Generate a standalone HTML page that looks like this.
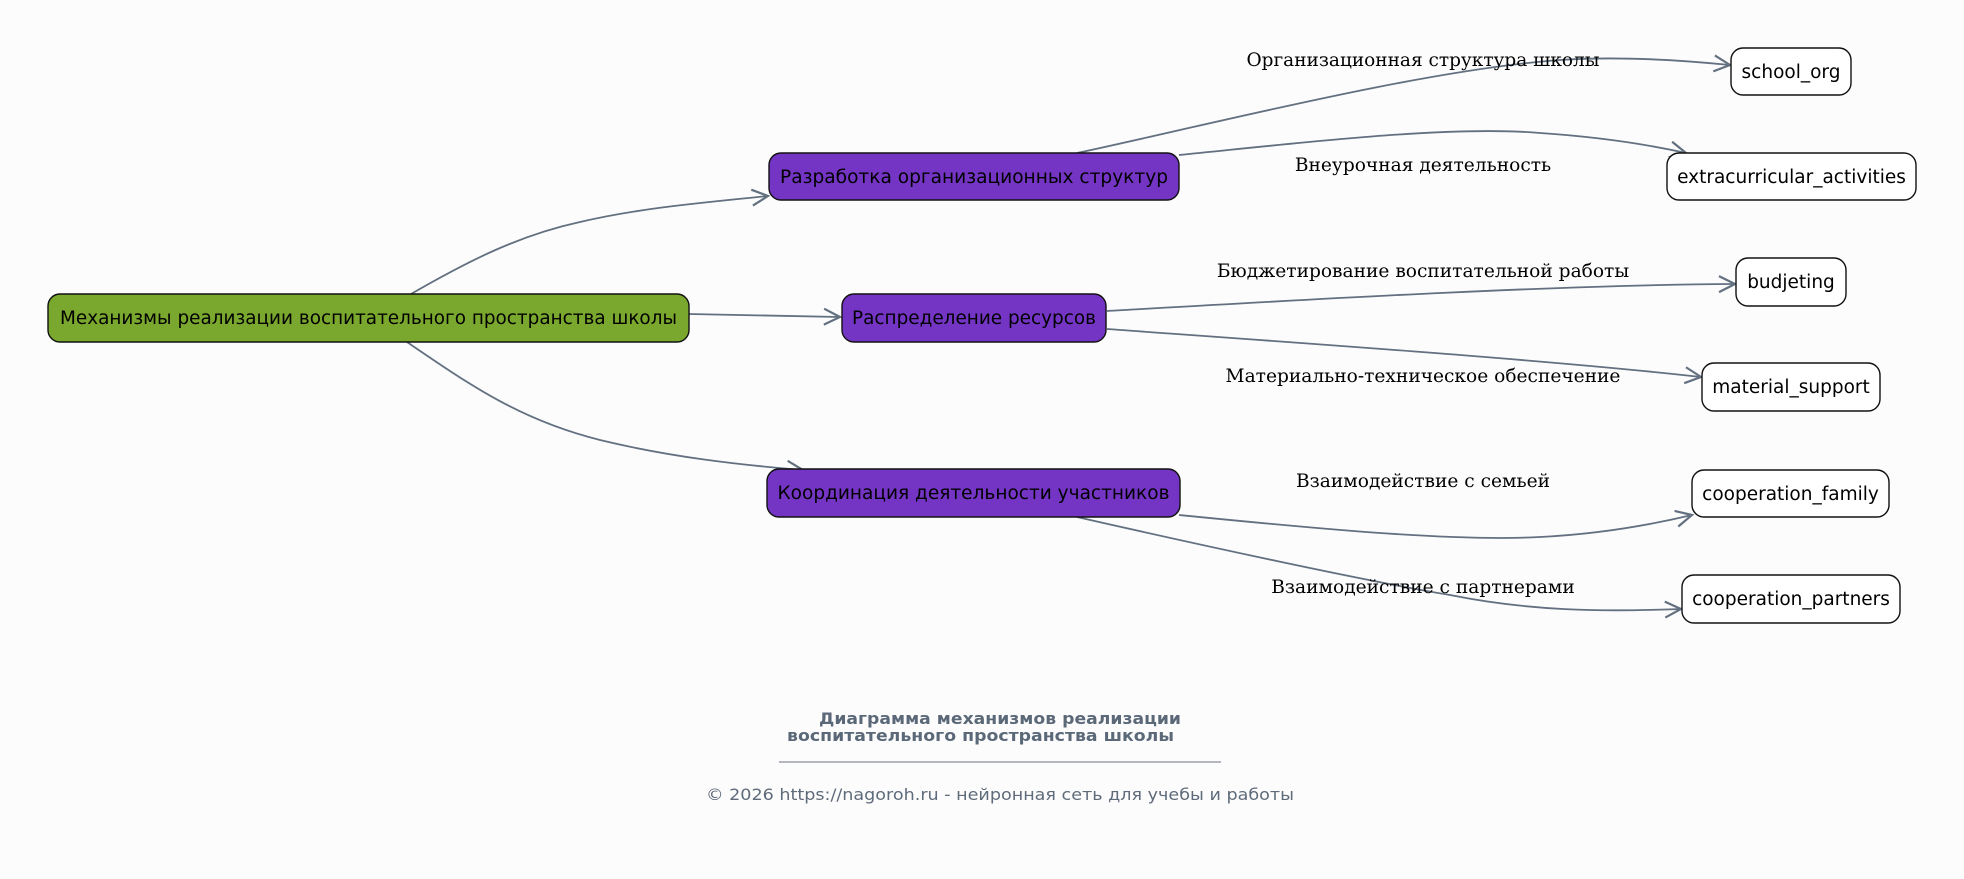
<!DOCTYPE html>
<html><head><meta charset="utf-8"><style>
html,body{margin:0;padding:0;background:#fcfcfc;}
svg{display:block;}
.n{font-family:"DejaVu Sans","Liberation Sans",sans-serif;font-size:18.5px;fill:#000;}
.l{font-family:"DejaVu Serif","Liberation Serif",serif;font-size:18.6px;fill:#000;}
.e{fill:none;stroke:#627080;stroke-width:1.8;marker-end:url(#ah);}
</style></head><body>
<svg width="1964" height="879" viewBox="0 0 1964 879" xmlns="http://www.w3.org/2000/svg">
<defs>
<marker id="ah" markerWidth="24" markerHeight="24" refX="19" refY="10" orient="auto" markerUnits="userSpaceOnUse">
<path d="M3,2 L19,10 L3,18" fill="none" stroke="#627080" stroke-width="2.2" stroke-linejoin="miter"/>
</marker>
</defs>
<rect width="1964" height="879" fill="#fcfcfc"/>
<path class="e" d="M411,294 C470,260 520,235 580,222 C640,208 700,203 768,196"/>
<path class="e" d="M689,314 L840,317"/>
<path class="e" d="M407,342 C470,385 520,420 600,440 C670,457 740,465 803,470"/>
<path class="e" d="M1077,153 C1200,127 1420,70 1560,60 C1620,56 1680,60 1730,65"/>
<path class="e" d="M1179,155 C1300,143 1450,125 1540,133 C1600,137 1650,145 1686,153"/>
<path class="e" d="M1107,311 C1300,300 1550,285 1735,284"/>
<path class="e" d="M1107,329 C1300,343 1550,360 1701,377"/>
<path class="e" d="M1179,515 C1300,527 1450,542 1540,537 C1600,534 1650,525 1692,515"/>
<path class="e" d="M1077,517 C1200,545 1370,582 1450,595 C1530,611 1600,612 1681,609"/>
<g class="l" text-anchor="middle">
<text x="1423" y="66" textLength="353" lengthAdjust="spacingAndGlyphs">Организационная структура школы</text>
<text x="1423" y="171">Внеурочная деятельность</text>
<text x="1423" y="277">Бюджетирование воспитательной работы</text>
<text x="1423" y="382">Материально-техническое обеспечение</text>
<text x="1423" y="487">Взаимодействие с семьей</text>
<text x="1423" y="593">Взаимодействие с партнерами</text>
</g>
<rect x="48" y="294" width="641" height="48" rx="12" fill="#7aa82e" stroke="#111" stroke-width="1.4"/>
<text class="n" x="368.5" y="324" text-anchor="middle" textLength="617" lengthAdjust="spacingAndGlyphs">Механизмы реализации воспитательного пространства школы</text>
<rect x="769" y="153" width="410" height="47" rx="12" fill="#7435c4" stroke="#111" stroke-width="1.4"/>
<text class="n" x="974" y="183" text-anchor="middle" textLength="388" lengthAdjust="spacingAndGlyphs">Разработка организационных структур</text>
<rect x="842" y="294" width="264" height="48" rx="12" fill="#7435c4" stroke="#111" stroke-width="1.4"/>
<text class="n" x="974" y="324" text-anchor="middle" textLength="244" lengthAdjust="spacingAndGlyphs">Распределение ресурсов</text>
<rect x="767" y="469" width="413" height="48" rx="12" fill="#7435c4" stroke="#111" stroke-width="1.4"/>
<text class="n" x="973.5" y="499" text-anchor="middle" textLength="392" lengthAdjust="spacingAndGlyphs">Координация деятельности участников</text>
<g fill="#fff" stroke="#111" stroke-width="1.4">
<rect x="1731" y="48" width="120" height="47" rx="12"/>
<rect x="1667" y="153" width="249" height="47" rx="12"/>
<rect x="1736" y="258" width="110" height="48" rx="12"/>
<rect x="1702" y="363" width="178" height="48" rx="12"/>
<rect x="1692" y="470" width="197" height="47" rx="12"/>
<rect x="1682" y="575" width="218" height="48" rx="12"/>
</g>
<g class="n" text-anchor="middle">
<text x="1791" y="78">school_org</text>
<text x="1791.5" y="183">extracurricular_activities</text>
<text x="1791" y="288">budjeting</text>
<text x="1791" y="393">material_support</text>
<text x="1790.5" y="500">cooperation_family</text>
<text x="1791" y="605">cooperation_partners</text>
</g>
<g font-family="DejaVu Sans,Liberation Sans,sans-serif" font-weight="bold" font-size="16" fill="#5a6878">
<text x="819" y="724" textLength="362" lengthAdjust="spacingAndGlyphs">Диаграмма механизмов реализации</text>
<text x="787" y="741" textLength="387" lengthAdjust="spacingAndGlyphs">воспитательного пространства школы</text>
</g>
<line x1="779" y1="762" x2="1221" y2="762" stroke="#6b7480" stroke-width="1"/>
<text x="706" y="800" font-family="DejaVu Sans,Liberation Sans,sans-serif" font-size="16" fill="#5f6b7a" textLength="588" lengthAdjust="spacingAndGlyphs">© 2026 https://nagoroh.ru - нейронная сеть для учебы и работы</text>
</svg>
</body></html>
